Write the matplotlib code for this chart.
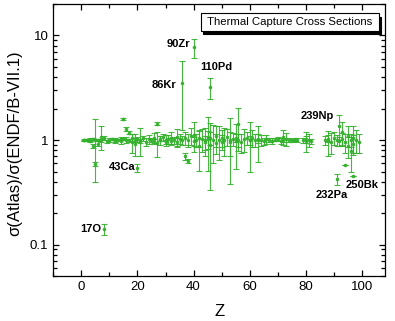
import matplotlib
matplotlib.use("Agg")
import matplotlib.pyplot as plt
from matplotlib.patches import Rectangle
from matplotlib.ticker import LogLocator, NullFormatter, MultipleLocator, FixedLocator

plt.rcParams["font.family"] = ["Liberation Sans", "DejaVu Sans"]

# atomic number, ratio sigma(Atlas)/sigma(ENDF/B-VII.1), absolute uncertainty
z = [1, 1, 2, 3, 3, 4, 4, 5, 5, 6, 6, 7, 7, 8, 8, 9, 10,
     11, 12, 12, 13, 14, 14, 15, 15, 16, 16, 17, 17, 18, 18, 19, 19, 20, 20,
     21, 21, 22, 23, 24, 25, 26, 26, 27, 27, 28, 28, 29, 30, 30,
     31, 32, 32, 33, 34, 34, 35, 36, 36, 37, 37, 38, 38, 39, 40, 40, 40,
     41, 42, 42, 43, 44, 44, 45, 45, 46, 46, 46, 47, 48, 48, 49, 50, 50,
     51, 52, 53, 53, 54, 55, 55, 56, 56, 57, 58, 59, 60, 60,
     61, 62, 63, 63, 64, 65, 66, 67, 68, 69,
     70, 71, 72, 72, 73, 74, 75, 76, 77, 79, 80, 80, 81, 82,
     87, 88, 88, 89, 90, 91, 91, 92, 92, 93, 93, 94, 94, 95, 95, 96, 96,
     97, 97, 97, 98, 99]
ratio = [1.00, 0.99, 1.00, 1.01, 0.98, 0.87, 1.02, 1.00, 0.59, 0.92, 1.00, 1.08, 0.99, 0.14, 1.05, 0.97, 1.00,
         1.02, 1.00, 0.98, 1.01, 1.03, 0.97, 1.60, 1.02, 1.28, 1.00, 1.18, 0.99, 0.95, 1.05, 0.92, 1.00, 0.54, 1.02,
         1.00, 0.98, 1.04, 0.96, 1.02, 1.00, 1.05, 0.97, 1.43, 0.94, 1.03, 0.99, 1.06, 1.00, 0.96,
         1.02, 1.05, 0.98, 1.00, 1.08, 0.95, 1.03, 3.49, 1.00, 1.05, 0.70, 0.63, 1.00, 1.10, 7.70, 1.12, 0.97,
         1.00, 0.87, 1.05, 1.02, 1.00, 0.95, 1.08, 1.02, 3.19, 0.90, 1.05, 1.00, 1.10, 0.93, 1.00, 1.05, 0.96,
         1.00, 1.08, 1.00, 0.95, 1.03, 0.98, 1.05, 1.41, 1.00, 0.95, 1.02, 1.04, 0.99, 1.00,
         1.05, 1.00, 0.99, 1.03, 1.00, 0.97, 1.02, 1.00, 0.98, 1.01,
         1.02, 0.98, 1.07, 1.00, 1.03, 1.00, 0.99, 1.01, 1.00, 0.99, 0.98, 1.02, 1.00, 0.97,
         1.00, 0.97, 1.03, 0.95, 1.05, 0.42, 1.00, 1.37, 0.98, 1.20, 1.02, 0.58, 0.95, 1.10, 0.88, 0.78, 1.00,
         0.455, 1.05, 0.92, 1.00, 0.95]
err = [0.02, 0.01, 0.03, 0.03, 0.02, 0.04, 0.03, 0.60, 0.03, 0.05, 0.02, 0.27, 0.03, 0.017, 0.05, 0.03, 0.04,
       0.03, 0.05, 0.04, 0.02, 0.04, 0.06, 0.04, 0.03, 0.05, 0.06, 0.04, 0.03, 0.20, 0.08, 0.22, 0.05, 0.05, 0.06,
       0.30, 0.05, 0.06, 0.08, 0.10, 0.05, 0.12, 0.06, 0.05, 0.25, 0.06, 0.10, 0.08, 0.12, 0.05,
       0.10, 0.15, 0.06, 0.08, 0.20, 0.10, 0.12, 2.25, 0.10, 0.15, 0.05, 0.03, 0.15, 0.20, 1.60, 0.36, 0.10,
       0.15, 0.36, 0.20, 0.25, 0.30, 0.15, 0.57, 0.20, 0.73, 0.57, 0.15, 0.40, 0.25, 0.20, 0.35, 0.20, 0.15,
       0.30, 0.20, 0.62, 0.25, 0.15, 0.45, 0.10, 0.62, 0.15, 0.20, 0.25, 0.15, 0.49, 0.10,
       0.20, 0.15, 0.38, 0.10, 0.12, 0.08, 0.10, 0.05, 0.06, 0.04,
       0.05, 0.06, 0.18, 0.05, 0.15, 0.04, 0.03, 0.04, 0.05, 0.05, 0.22, 0.08, 0.14, 0.06,
       0.10, 0.26, 0.08, 0.22, 0.15, 0.05, 0.12, 0.38, 0.10, 0.30, 0.15, 0.0, 0.20, 0.25, 0.20, 0.28, 0.15,
       0.0, 0.30, 0.20, 0.25, 0.20]

labels = ["17O", "43Ca", "86Kr", "90Zr", "110Pd", "239Np", "232Pa", "250Bk"]
label_z = [3.3, 14.5, 29.5, 34.5, 48.0, 84.2, 89.4, 100.0]
label_r = [0.141, 0.549, 3.39, 8.2, 4.97, 1.68, 0.301, 0.373]

GREEN = "#33b02c"

fig = plt.figure(figsize=(3.95, 3.21), dpi=100)
ax = fig.add_axes([0.135, 0.140, 0.840, 0.8475])

ax.errorbar(z, ratio, yerr=err, fmt="o", color=GREEN, ecolor=GREEN,
            markersize=1.6, elinewidth=0.8, capsize=2.2, capthick=0.8, alpha=0.9)

for t, xz, yr in zip(labels, label_z, label_r):
    ax.text(xz, yr, t, ha="center", va="center", fontsize=8, fontweight="bold")

ax.set_yscale("log")
ax.set_xlim(-10, 108.3)
ax.set_ylim(0.05, 20)
ax.xaxis.set_major_locator(FixedLocator([0, 20, 40, 60, 80, 100]))
ax.xaxis.set_minor_locator(MultipleLocator(10))
ax.yaxis.set_major_locator(FixedLocator([0.1, 1, 10]))
ax.yaxis.set_major_formatter(plt.FuncFormatter(lambda v, p: f"{v:g}"))
ax.yaxis.set_minor_locator(LogLocator(base=10, subs=range(2, 10)))
ax.yaxis.set_minor_formatter(NullFormatter())

ax.tick_params(which="both", direction="in", top=True, right=True, labelsize=9.5, width=0.9)
ax.tick_params(which="major", length=4)
ax.tick_params(which="minor", length=3)
for s in ax.spines.values():
    s.set_linewidth(0.9)

ax.set_xlabel("Z", fontsize=12)
ax.set_ylabel("σ(Atlas)/σ(ENDF/B-VII.1)", fontsize=12)
ax.xaxis.set_label_coords(0.5, -0.103)
ax.yaxis.set_label_coords(-0.094, 0.49)

# legend-like title box with drop shadow
ax.add_patch(Rectangle((0.452, 0.888), 0.537, 0.066, transform=ax.transAxes,
                       facecolor="black", edgecolor="black", lw=0.8, zorder=5, clip_on=False))
ax.add_patch(Rectangle((0.444, 0.902), 0.537, 0.066, transform=ax.transAxes,
                       facecolor="white", edgecolor="black", lw=0.8, zorder=6, clip_on=False))
ax.text(0.7125, 0.935, "Thermal Capture Cross Sections", transform=ax.transAxes,
        ha="center", va="center", fontsize=8.2, zorder=7)

fig.savefig("out.png", dpi=100)
